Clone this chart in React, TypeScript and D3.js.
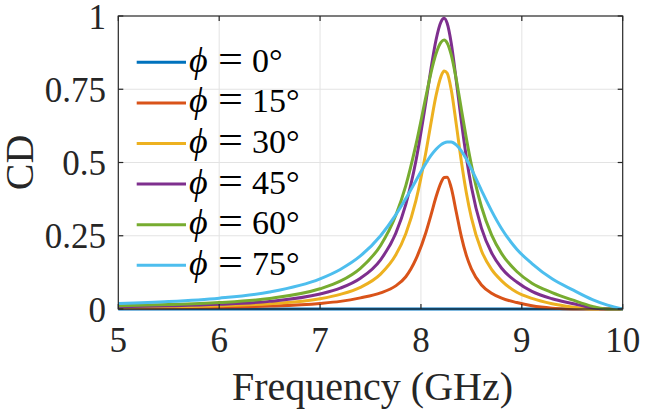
import React from "react";
import * as d3 from "d3";

const freq = [5.0, 5.5, 6.0, 6.5, 7.0, 7.2, 7.4, 7.6, 7.75, 7.85, 7.95, 8.05, 8.1, 8.15, 8.2, 8.23, 8.26, 8.3, 8.35, 8.4, 8.45, 8.5, 8.6, 8.7, 8.8, 8.95, 9.1, 9.3, 9.5, 9.7, 9.85, 10.0];

const cd0 = [0, 0, 0, 0, 0, 0, 0, 0, 0, 0, 0, 0, 0, 0, 0, 0, 0, 0, 0, 0, 0, 0, 0, 0, 0, 0, 0, 0, 0, 0, 0, 0];
const cd15 = [0.003, 0.004, 0.006, 0.010, 0.019, 0.026, 0.038, 0.055, 0.079, 0.110, 0.170, 0.262, 0.321, 0.383, 0.432, 0.449, 0.450, 0.414, 0.331, 0.248, 0.183, 0.137, 0.082, 0.054, 0.037, 0.022, 0.011, 0.003, 0, 0, 0, 0];
const cd30 = [0.005, 0.0075, 0.011, 0.018, 0.035, 0.050, 0.074, 0.119, 0.184, 0.257, 0.370, 0.537, 0.636, 0.729, 0.795, 0.812, 0.805, 0.749, 0.631, 0.505, 0.397, 0.312, 0.199, 0.135, 0.096, 0.057, 0.036, 0.018, 0.007, 0, 0, 0];
const cd45 = [0.008, 0.011, 0.016, 0.026, 0.051, 0.071, 0.105, 0.168, 0.258, 0.357, 0.505, 0.709, 0.821, 0.919, 0.981, 0.992, 0.975, 0.908, 0.780, 0.642, 0.518, 0.417, 0.276, 0.192, 0.139, 0.092, 0.060, 0.035, 0.019, 0.004, 0, 0];
const cd60 = [0.011, 0.015, 0.022, 0.036, 0.069, 0.095, 0.139, 0.217, 0.319, 0.421, 0.560, 0.726, 0.807, 0.872, 0.911, 0.918, 0.908, 0.868, 0.784, 0.683, 0.583, 0.492, 0.349, 0.253, 0.189, 0.128, 0.088, 0.056, 0.031, 0.009, 0, 0];
const cd75 = [0.0185, 0.0254, 0.037, 0.058, 0.103, 0.135, 0.181, 0.250, 0.321, 0.377, 0.438, 0.498, 0.524, 0.545, 0.561, 0.567, 0.570, 0.570, 0.560, 0.540, 0.512, 0.478, 0.405, 0.335, 0.274, 0.204, 0.155, 0.103, 0.066, 0.032, 0.013, 0];

const seriesValues = [cd0, cd15, cd30, cd45, cd60, cd75];
const seriesAngles = ["0", "15", "30", "45", "60", "75"];
const seriesColors = ["#0072BD", "#D95319", "#EDB120", "#7E2F8E", "#77AC30", "#4DBEEE"];

const xTicks = [5, 6, 7, 8, 9, 10];
const yTicks = [0, 0.25, 0.5, 0.75, 1];
const yTickLabels = ["0", "0.25", "0.5", "0.75", "1"];

const W = 648;
const H = 413;
const L = 118.3;
const R = 622.7;
const T = 16;
const B = 309;

const AXC = "#262626";
const FAM = "Liberation Serif";

export default function App() {
  const x = d3.scaleLinear().domain([5, 10]).range([L, R]);
  const y = d3.scaleLinear().domain([0, 1]).range([B, T]);
  const line = d3
    .line<number>()
    .x((_, i) => x(freq[i]))
    .y((d) => y(d))
    .curve(d3.curveMonotoneX);

  const tick = 5;
  const legX1 = 136.7;
  const legX2 = 186;
  const legY0 = 62.3;
  const legDy = 40.6;
  const fs = { fontFamily: `"${FAM}"` };

  return (
    <svg width={W} height={H} style={{ position: "absolute", left: 0, top: 0 }}>
      <rect x={0} y={0} width={W} height={H} fill="#fff" />
      {xTicks.slice(1, -1).map((t) => (
        <line key={"gx" + t} x1={x(t)} x2={x(t)} y1={T} y2={B} stroke="#e3e3e3" strokeWidth={1} />
      ))}
      {yTicks.slice(1, -1).map((t) => (
        <line key={"gy" + t} x1={L} x2={R} y1={y(t)} y2={y(t)} stroke="#e3e3e3" strokeWidth={1} />
      ))}
      {seriesValues.map((vals, i) => (
        <path
          key={"s" + i}
          d={line(vals) || ""}
          fill="none"
          stroke={seriesColors[i]}
          strokeWidth={3}
          strokeLinejoin="round"
        />
      ))}
      <rect x={L} y={T} width={R - L} height={B - T} fill="none" stroke={AXC} strokeWidth={1.2} />
      {xTicks.map((t) => (
        <g key={"tx" + t}>
          <line x1={x(t)} x2={x(t)} y1={B} y2={B - tick} stroke={AXC} strokeWidth={1.2} />
          <line x1={x(t)} x2={x(t)} y1={T} y2={T + tick} stroke={AXC} strokeWidth={1.2} />
          <text x={x(t)} y={352} textAnchor="middle" style={fs} fontSize={35} fill={AXC}>
            {String(t)}
          </text>
        </g>
      ))}
      {yTicks.map((t, i) => (
        <g key={"ty" + t}>
          <line x1={L} x2={L + tick} y1={y(t)} y2={y(t)} stroke={AXC} strokeWidth={1.2} />
          <line x1={R} x2={R - tick} y1={y(t)} y2={y(t)} stroke={AXC} strokeWidth={1.2} />
          <text x={106} y={y(t) + 12.5} textAnchor="end" style={fs} fontSize={35} fill={AXC}>
            {yTickLabels[i]}
          </text>
        </g>
      ))}
      <text x={(L + R) / 2 + 2} y={400} textAnchor="middle" style={fs} fontSize={40} fill={AXC}>
        Frequency (GHz)
      </text>
      <text
        transform={`translate(33, ${(T + B) / 2}) rotate(-90)`}
        textAnchor="middle"
        style={fs}
        fontSize={40}
        fill={AXC}
      >
        CD
      </text>
      {seriesAngles.map((a, i) => {
        const ly = legY0 + i * legDy;
        return (
          <g key={"lg" + i}>
            <line x1={legX1} x2={legX2} y1={ly} y2={ly} stroke={seriesColors[i]} strokeWidth={3} />
            <text x={189} y={ly + 9.5} style={fs} fontStyle="italic" fontSize={36} fill="#000">
              ϕ
            </text>
            <text
              transform={`translate(218, ${ly + 9.5}) scale(1.3, 1.1)`}
              style={fs}
              fontSize={34}
              fill="#000"
            >
              =
            </text>
            <text x={252} y={ly + 9.5} style={fs} fontSize={34} fill="#000">
              {a + "°"}
            </text>
          </g>
        );
      })}
    </svg>
  );
}
